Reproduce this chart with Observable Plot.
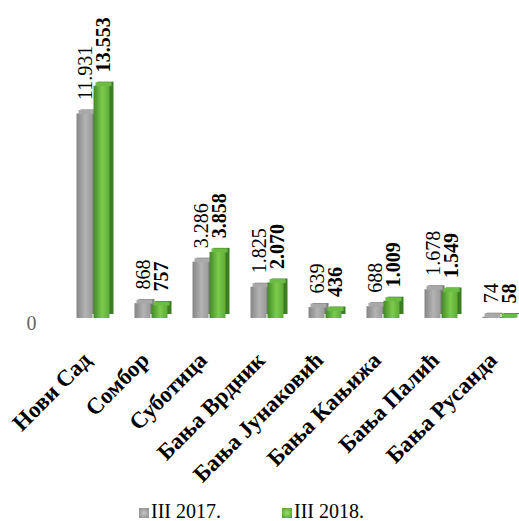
<!DOCTYPE html>
<html>
<head>
<meta charset="utf-8">
<script src="https://cdn.jsdelivr.net/npm/d3@7"></script>
<script src="https://cdn.jsdelivr.net/npm/@observablehq/plot@0.6"></script>
<style>
  html, body { margin: 0; padding: 0; background: #fff; overflow: hidden; }
  #wrap { width: 519px; height: 521px; position: relative; }
  #legend { position: relative; width: 519px; height: 33px; font-family: "Liberation Serif", "Times New Roman", serif; font-size: 20px; color: #000; }
  .sw { position: absolute; width: 10px; height: 10px; top: 20px; }
  .lt { position: absolute; top: 13px; line-height: 20px; white-space: nowrap; }
</style>
</head>
<body>
<div id="wrap"></div>
<script>
const categories = ["Нови Сад", "Сомбор", "Суботица", "Бања Врдник", "Бања Јунаковић", "Бања Кањижа", "Бања Палић", "Бања Русанда"];
const values2017 = [11931, 868, 3286, 1825, 639, 688, 1678, 74];
const values2018 = [13553, 757, 3858, 2070, 436, 1009, 1549, 58];
const seriesNames = ["III 2017.", "III 2018."];
const yTicks = [0];

const rows = categories.map((c, i) => ({cat: c, v17: values2017[i], v18: values2018[i]}));
const fmt = d3.formatLocale({thousands: ".", grouping: [3], decimal: ","}).format(",d");
const serif = "'Liberation Serif', 'Times New Roman', serif";

// positions inside each band
const g17 = {insetLeft: 10.5, insetRight: 31.5};
const g18 = {insetLeft: 27.5, insetRight: 14.5};

const chart = Plot.plot({
  width: 519,
  height: 488,
  marginTop: 78,
  marginBottom: 170,
  marginLeft: 0,
  marginRight: 0,
  style: {overflow: "hidden", background: "white"},
  x: {domain: categories, range: [65.5, 529.5], padding: 0, axis: null},
  y: {domain: [0, 14000], axis: null},
  marks: [
    // 2017 bars (3D)
    Plot.barY(rows, {x: "cat", y: "v17", ...g17, dx: 4, dy: -4, fill: "#7b7b7b"}),
    Plot.barY(rows, {x: "cat", y: "v17", ...g17, fill: "url(#grad17)"}),
    Plot.tickY(rows, {x: "cat", y: "v17", insetLeft: g17.insetLeft + 2, insetRight: g17.insetRight - 2, dy: -2, stroke: "#a9a9a9", strokeWidth: 4}),
    // 2018 bars (3D)
    Plot.barY(rows, {x: "cat", y: "v18", ...g18, dx: 4, dy: -4, fill: "#3c7d22"}),
    Plot.barY(rows, {x: "cat", y: "v18", ...g18, fill: "url(#grad18)"}),
    Plot.tickY(rows, {x: "cat", y: "v18", insetLeft: g18.insetLeft + 2, insetRight: g18.insetRight - 2, dy: -2, stroke: "#6cbc44", strokeWidth: 4}),
    // value labels
    Plot.text(rows, {x: "cat", y: "v17", text: d => fmt(d.v17), rotate: -90, textAnchor: "start", dx: -10, dy: -14, fontFamily: serif, fontSize: 20, fill: "#000"}),
    Plot.text(rows, {x: "cat", y: "v18", text: d => fmt(d.v18), rotate: -90, textAnchor: "start", dx: 8, dy: -14, fontFamily: serif, fontSize: 20, fontWeight: "bold", fill: "#000"}),
    // y tick label
    Plot.text(yTicks, {y: d => d, text: d => String(d), frameAnchor: "left", dx: 31, dy: 5, textAnchor: "middle", fontFamily: serif, fontSize: 20, fill: "#666"}),
    // category labels
    Plot.text(categories, {x: d => d, text: d => d, frameAnchor: "bottom", dx: -3, dy: 43, rotate: -45, textAnchor: "end", fontFamily: serif, fontSize: 23, fontWeight: "bold", fill: "#000"})
  ]
});

const defs = d3.select(chart).insert("defs", ":first-child");
const lg1 = defs.append("linearGradient").attr("id", "grad17").attr("x1", 0).attr("x2", 1).attr("y1", 0).attr("y2", 0);
[["0%", "#858585"], ["55%", "#b3b3b3"], ["100%", "#9a9a9a"]].forEach(([o, c]) => lg1.append("stop").attr("offset", o).attr("stop-color", c));
const lg2 = defs.append("linearGradient").attr("id", "grad18").attr("x1", 0).attr("x2", 1).attr("y1", 0).attr("y2", 0);
[["0%", "#428a26"], ["55%", "#7dcb4d"], ["100%", "#5eab37"]].forEach(([o, c]) => lg2.append("stop").attr("offset", o).attr("stop-color", c));

const wrap = document.getElementById("wrap");
wrap.appendChild(chart);

const legend = document.createElement("div");
legend.id = "legend";
legend.innerHTML = `
  <div class="sw" style="left:139px;background:radial-gradient(circle,#c4c4c4,#8a8a8a);"></div>
  <div class="lt" style="left:151px;">${seriesNames[0]}</div>
  <div class="sw" style="left:282px;background:radial-gradient(circle,#9be06a,#4c9a2a);"></div>
  <div class="lt" style="left:294px;">${seriesNames[1]}</div>`;
wrap.appendChild(legend);
</script>
</body>
</html>
